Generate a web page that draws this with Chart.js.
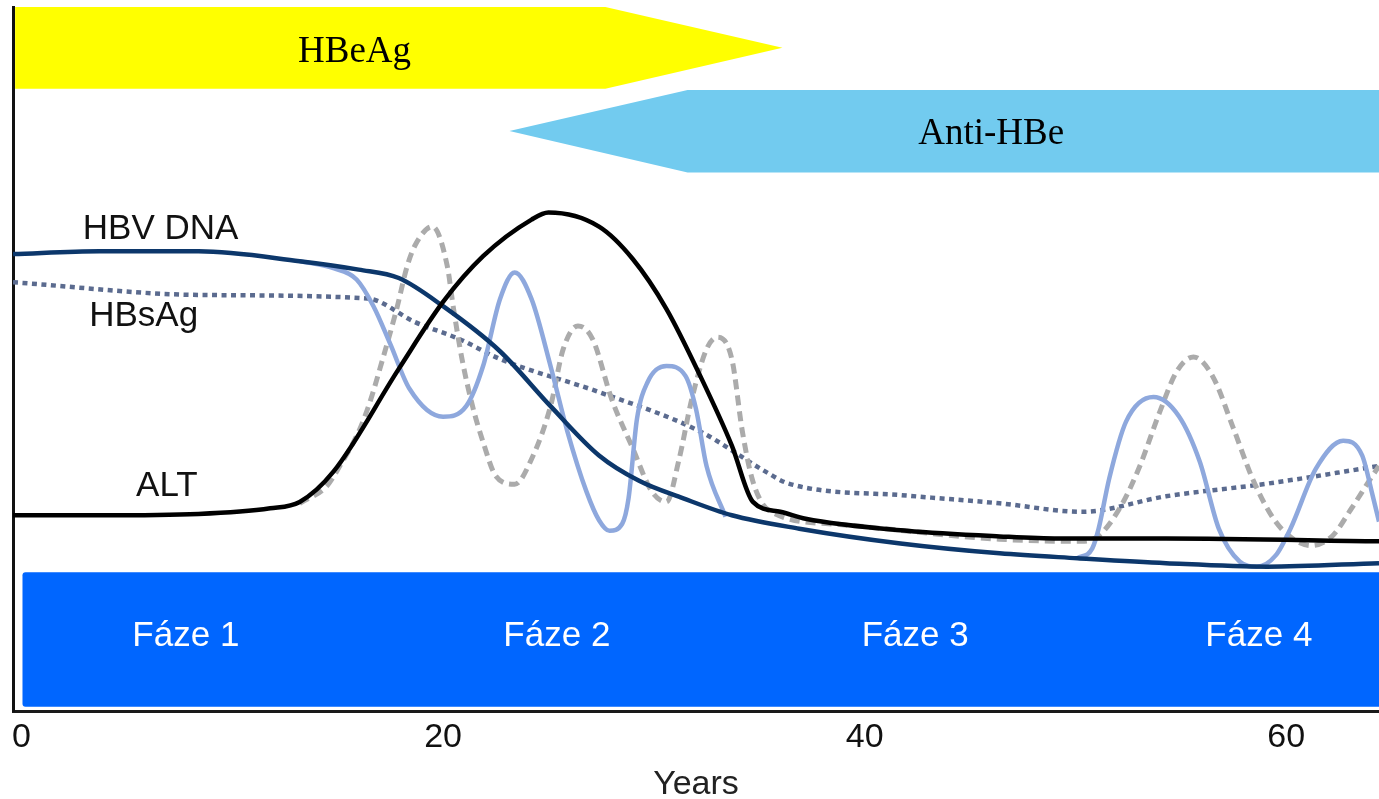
<!DOCTYPE html>
<html>
<head>
<meta charset="utf-8">
<title>HBV – průběh infekce</title>
<script src="https://cdn.jsdelivr.net/npm/chart.js@4.4.1/dist/chart.umd.min.js"></script>
<style>
  html, body { margin: 0; padding: 0; background: #fff; }
  #wrap { width: 1379px; height: 799px; }
</style>
</head>
<body>
<div id="wrap"><canvas id="hbvChart" width="1379" height="799"></canvas></div>
<script>
// Years on the x axis, relative levels (0-100) on the hidden y axis
const xTicks = [0, 20, 40, 60];

const dnaYears = [-0.4, 3.7, 8.4, 13.2, 16.0, 17.9, 20.0, 22.7, 25.1, 27.4, 29.3, 31.4, 33.7, 36.9, 41.7, 46.4, 50.1, 54.3, 59.1, 64.4];
const dnaLevel = [64.9, 65.3, 65.3, 63.9, 62.7, 61.5, 57.5, 51.1, 43.3, 36.3, 32.7, 30.2, 27.8, 25.9, 23.8, 22.4, 21.7, 21.0, 20.5, 21.0];

const altYears = [-0.4, 3.7, 8.4, 11.8, 13.2, 14.8, 17.9, 20.0, 21.9, 24.2, 25.0, 27.4, 29.0, 30.6, 32.2, 33.7, 34.7, 36.0, 37.2, 42.0, 46.4, 49.2, 54.3, 64.4];
const altLevel = [27.8, 27.8, 28.0, 28.8, 29.7, 34.0, 48.6, 58.1, 64.6, 69.8, 70.8, 68.8, 64.2, 57.1, 47.6, 37.7, 29.7, 28.3, 27.3, 25.6, 24.8, 24.5, 24.5, 24.1];

const hbsagYears = [-0.4, 8.4, 16.4, 18.7, 20.8, 22.7, 27.4, 32.2, 35.3, 36.4, 42.0, 46.4, 50.3, 54.3, 59.1, 64.4];
const hbsagLevel = [60.9, 59.1, 58.6, 55.2, 52.8, 50.0, 45.3, 39.7, 34.0, 32.3, 30.6, 29.5, 28.3, 30.5, 32.3, 34.8];

// fluctuating HBV DNA (two flare periods, gap in between)
const flareYears = [13.2, 14.8, 15.9, 16.7, 17.5, 18.4, 20.0, 21.1, 21.9, 22.7, 23.4, 24.2, 25.1, 25.9, 26.8, 27.4, 27.9, 28.5, 28.8, 29.2, 29.7, 30.6, 31.5, 32.0, 32.5, 33.4,
  41.6,
  50.1, 50.8, 51.1, 51.6, 52.4, 53.7, 54.9, 55.9, 56.8, 57.8, 58.6, 59.5, 60.2, 61.4, 62.7, 63.6, 64.1, 64.4];
const flareLevel = [63.9, 62.9, 61.3, 57.5, 52.1, 45.8, 41.8, 43.3, 49.0, 58.5, 62.3, 58.5, 49.0, 39.7, 31.2, 27.1, 25.6, 26.6, 30.2, 41.5, 46.7, 49.0, 47.6, 42.9, 34.8, 27.6,
  null,
  21.7, 23.1, 25.9, 33.0, 41.1, 44.6, 41.9, 35.4, 25.9, 21.2, 20.5, 22.1, 25.9, 34.4, 38.4, 36.3, 30.6, 26.9];

// fluctuating ALT
const altFlareYears = [13.2, 14.5, 15.1, 16.0, 16.5, 17.1, 17.8, 18.3, 18.7, 19.5, 20.2, 20.5, 20.9, 21.4, 21.9, 22.5, 23.4, 24.2, 25.1, 25.7, 26.4, 27.1, 28.0, 29.0, 29.9, 30.6, 31.2, 31.8, 32.5, 33.0, 33.7, 34.2, 34.7, 35.5, 38.8, 46.4,
  50.3, 51.1, 52.1, 53.0, 54.0, 54.8, 55.6, 56.5, 57.5, 58.4, 59.4, 60.3, 61.2, 62.2, 63.1, 64.0, 64.4];
const altFlareLevel = [29.5, 32.0, 34.8, 39.7, 43.6, 49.6, 57.1, 63.2, 66.3, 68.8, 63.2, 57.1, 50.0, 43.3, 38.2, 33.4, 32.2, 35.8, 43.3, 51.4, 54.7, 52.8, 44.3, 37.3, 31.2, 29.7, 35.8, 44.3, 51.4, 53.1, 50.0, 39.7, 32.6, 28.4, 26.5, 24.4,
  24.1, 24.9, 28.8, 34.4, 42.5, 48.2, 50.3, 47.6, 40.1, 33.0, 27.3, 24.5, 23.5, 24.9, 28.8, 33.0, 34.8];

const curveNames = ['HBV DNA', 'HBsAg', 'ALT'];
const curveLabelYears = [6.6, 5.8, 6.9];
const curveLabelLevels = [67.1, 54.7, 30.5];

const markerNames = ['HBeAg', 'Anti-HBe'];
const markerTextYears = [15.8, 46.0];

const phaseNames = ['Fáze 1', 'Fáze 2', 'Fáze 3', 'Fáze 4'];
const phaseMidYears = [7.8, 25.4, 42.4, 58.7];

const SANS = "'Liberation Sans', Arial, sans-serif";
const SERIF = "'Liberation Serif', 'Times New Roman', serif";

function points(xs, ys) {
    return xs.map((t, i) => ({ x: t, y: ys[i] }));
}

// HBeAg / anti-HBe arrows, phase strip and curve names
const decorPlugin = {
    id: 'decor',
    beforeDraw(chart) {
        const { ctx, chartArea: area, scales: { x, y } } = chart;
        ctx.save();

        // HBeAg arrow pointing right
        let l = x.getPixelForValue(-0.3), r = x.getPixelForValue(27.7), tip = x.getPixelForValue(36.1);
        let top = y.getPixelForValue(100), bot = y.getPixelForValue(88.4), mid = y.getPixelForValue(94.2);
        ctx.fillStyle = '#FFFF00';
        ctx.beginPath();
        ctx.moveTo(l, top); ctx.lineTo(r, top); ctx.lineTo(tip, mid);
        ctx.lineTo(r, bot); ctx.lineTo(l, bot); ctx.closePath();
        ctx.fill();

        // anti-HBe arrow pointing left
        l = x.getPixelForValue(31.6); tip = x.getPixelForValue(23.15); r = area.right;
        top = y.getPixelForValue(88.2); bot = y.getPixelForValue(76.5); mid = y.getPixelForValue(82.4);
        ctx.fillStyle = '#72CBEF';
        ctx.beginPath();
        ctx.moveTo(r, top); ctx.lineTo(l, top); ctx.lineTo(tip, mid);
        ctx.lineTo(l, bot); ctx.lineTo(r, bot); ctx.closePath();
        ctx.fill();

        ctx.fillStyle = '#000';
        ctx.font = '37px ' + SERIF;
        ctx.textAlign = 'center';
        ctx.textBaseline = 'alphabetic';
        ctx.fillText(markerNames[0], x.getPixelForValue(markerTextYears[0]), y.getPixelForValue(92.2));
        ctx.fillText(markerNames[1], x.getPixelForValue(markerTextYears[1]), y.getPixelForValue(80.6));

        // phase strip
        const sl = x.getPixelForValue(0.05), st = y.getPixelForValue(19.7), sb = y.getPixelForValue(0.6);
        ctx.fillStyle = '#0066FF';
        ctx.beginPath();
        ctx.roundRect(sl, st, area.right - sl + 4, sb - st, 3);
        ctx.fill();
        ctx.fillStyle = '#fff';
        ctx.font = '35px ' + SANS;
        phaseNames.forEach((name, i) => {
            ctx.fillText(name, x.getPixelForValue(phaseMidYears[i]), y.getPixelForValue(9.3));
        });

        // curve names
        ctx.fillStyle = '#111';
        ctx.font = '35px ' + SANS;
        curveNames.forEach((name, i) => {
            ctx.fillText(name, x.getPixelForValue(curveLabelYears[i]), y.getPixelForValue(curveLabelLevels[i]));
        });
        ctx.restore();
    }
};

function initChart() {
    const ctx = document.getElementById('hbvChart').getContext('2d');

    new Chart(ctx, {
        type: 'line',
        data: {
            datasets: [
                {
                    label: 'ALT',
                    data: points(altYears, altLevel),
                    borderColor: '#000000',
                    borderWidth: 4.5,
                    order: 0
                },
                {
                    label: 'HBV DNA',
                    data: points(dnaYears, dnaLevel),
                    borderColor: '#0C376B',
                    borderWidth: 4.5,
                    order: 1
                },
                {
                    label: 'HBV DNA (fluktuace)',
                    data: points(flareYears, flareLevel),
                    borderColor: '#8EA8DD',
                    borderWidth: 4.5,
                    spanGaps: false,
                    order: 2
                },
                {
                    label: 'ALT (fluktuace)',
                    data: points(altFlareYears, altFlareLevel),
                    borderColor: '#ABABAB',
                    borderWidth: 5,
                    borderDash: [10, 6],
                    order: 3
                },
                {
                    label: 'HBsAg',
                    data: points(hbsagYears, hbsagLevel),
                    borderColor: '#5B6B8F',
                    borderWidth: 4.5,
                    borderDash: [5, 4.5],
                    order: 4
                }
            ]
        },
        options: {
            responsive: false,
            animation: false,
            devicePixelRatio: 1,
            layout: {
                padding: { left: 13, top: 7, right: 0, bottom: -3 }
            },
            elements: {
                point: { radius: 0 },
                line: { cubicInterpolationMode: 'monotone', borderCapStyle: 'butt', fill: false }
            },
            plugins: {
                legend: { display: false },
                tooltip: { enabled: false }
            },
            scales: {
                x: {
                    type: 'linear',
                    min: -0.4,
                    max: 64.4,
                    afterBuildTicks: (scale) => {
                        scale.ticks = xTicks.map(v => ({ value: v }));
                    },
                    grid: { display: false, drawTicks: false },
                    border: { display: true, color: '#1a1a1a', width: 3 },
                    ticks: {
                        color: '#111',
                        padding: 10,
                        maxRotation: 0,
                        font: { family: SANS, size: 34, lineHeight: 1 }
                    },
                    title: {
                        display: true,
                        text: 'Years',
                        color: '#222',
                        padding: { top: 3, bottom: 0 },
                        font: { family: SANS, size: 34, lineHeight: 1 }
                    }
                },
                y: {
                    min: 0,
                    max: 100,
                    grid: { display: false, drawTicks: false },
                    border: { display: true, color: '#111', width: 3 },
                    ticks: { display: false }
                }
            }
        },
        plugins: [decorPlugin]
    });
}

document.addEventListener('DOMContentLoaded', initChart);
</script>
</body>
</html>
